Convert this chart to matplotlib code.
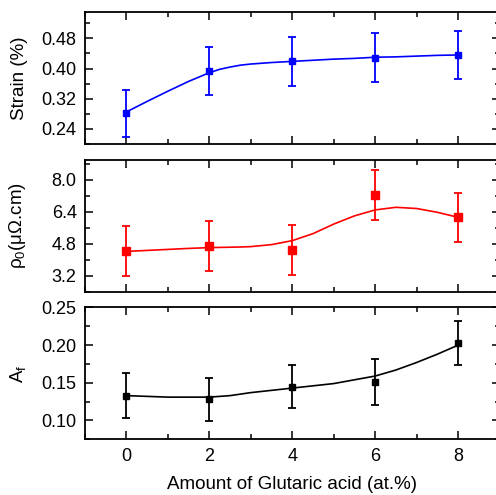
import matplotlib.pyplot as plt
import numpy as np

plt.rcParams['font.family'] = ['Liberation Sans', 'DejaVu Sans']
plt.rcParams['mathtext.fontset'] = 'custom'
plt.rcParams['mathtext.rm'] = 'Liberation Sans'
plt.rcParams['mathtext.it'] = 'Liberation Sans'

# data
glutaric = [0, 2, 4, 6, 8]

strain = [0.281, 0.394, 0.419, 0.429, 0.436]
strain_err = [0.063, 0.064, 0.064, 0.064, 0.064]

rho0 = [4.42, 4.67, 4.47, 7.23, 6.12]
rho0_err = [1.25, 1.25, 1.25, 1.25, 1.25]

af = [0.133, 0.128, 0.145, 0.151, 0.203]
af_err = [0.030, 0.029, 0.029, 0.030, 0.029]

# fitted guide lines
fit_x = [0, 0.5, 1, 1.5, 2, 2.25, 2.5, 2.75, 3, 3.5, 4, 4.5, 5, 5.5, 6, 6.5, 7, 7.5, 8]
strain_fit = [0.285, 0.313, 0.340, 0.366, 0.389, 0.398, 0.404, 0.409, 0.412, 0.416, 0.419, 0.422,
              0.425, 0.427, 0.430, 0.431, 0.433, 0.435, 0.436]
rho0_fit = [4.42, 4.47, 4.52, 4.57, 4.61, 4.62, 4.63, 4.64, 4.66, 4.76, 4.96, 5.31,
            5.79, 6.20, 6.50, 6.63, 6.57, 6.38, 6.13]
af_fit = [0.133, 0.132, 0.131, 0.131, 0.131, 0.132, 0.133, 0.135, 0.137, 0.140, 0.143, 0.146,
          0.149, 0.154, 0.159, 0.167, 0.177, 0.188, 0.200]

xticks = [0, 2, 4, 6, 8]

fig = plt.figure(figsize=(4.96, 4.95), dpi=100)
ax1 = fig.add_axes([0.1714, 0.7091, 0.8357, 0.2667])
ax2 = fig.add_axes([0.1714, 0.4107, 0.8357, 0.2660])
ax3 = fig.add_axes([0.1714, 0.1125, 0.8357, 0.2663])

panels = [
    (ax1, strain, strain_err, strain_fit, "#0000ff", 5, (0.20, 0.55), [0.24, 0.32, 0.40, 0.48], 0.04, "Strain (%)", "{:.2f}"),
    (ax2, rho0, rho0_err, rho0_fit, "#ff0000", 6.3, (2.5, 9.0), [3.2, 4.8, 6.4, 8.0], 0.8, r"$\rho_0$(μΩ.cm)", "{:.1f}"),
    (ax3, af, af_err, af_fit, "#000000", 4.6, (0.08, 0.25), [0.10, 0.15, 0.20, 0.25], 0.025, r"A$_\mathrm{f}$", "{:.2f}"),
]

for ax, y, yerr, yfit, col, ms, ylim, yt, minor, lab, fmt in panels:
    ax.plot(fit_x, yfit, "-", color=col, lw=1.2)
    ax.errorbar(glutaric, y, yerr=yerr, fmt="s", color=col, ms=ms, elinewidth=1.3,
                capsize=3, capthick=1.3)
    ax.set_xlim(-1, 9)
    ax.set_ylim(*ylim)
    ax.set_xticks(xticks)
    ax.set_xticks([-1, 1, 3, 5, 7, 9], minor=True)
    ax.set_yticks(yt)
    ax.set_yticks(np.arange(yt[0] - minor, ylim[1] + 1e-9, 2 * minor), minor=True)
    ax.set_yticklabels([fmt.format(v) for v in yt])
    ax.tick_params(which="both", direction="in", top=True, right=True, width=1.1,
                   labelsize=13, pad=6)
    ax.tick_params(which="major", length=6)
    ax.tick_params(which="minor", length=3.5)
    for s in ax.spines.values():
        s.set_linewidth(1.3)
    ax.set_ylabel(lab, fontsize=13.5)
    ax.yaxis.set_label_coords(-0.138, 0.5)

ax1.tick_params(labelbottom=False)
ax2.tick_params(labelbottom=False)
ax3.set_xlabel("Amount of Glutaric acid (at.%)", fontsize=13.5, labelpad=8)

plt.savefig("out.png", dpi=100)
